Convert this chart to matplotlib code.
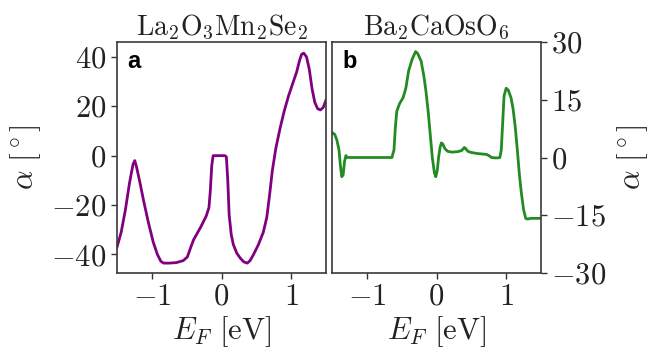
import matplotlib
matplotlib.use("Agg")
import matplotlib.pyplot as plt
from matplotlib.ticker import FuncFormatter

plt.rcParams["mathtext.fontset"] = "cm"
plt.rcParams["font.family"] = "serif"
plt.rcParams["font.serif"] = ["cmr10", "DejaVu Serif"]

# La2O3Mn2Se2 (panel a)
e_a = [-1.50, -1.44, -1.38, -1.32, -1.27, -1.245, -1.22, -1.17, -1.12, -1.05,
       -0.98, -0.92, -0.87, -0.83, -0.75, -0.65, -0.55, -0.49, -0.44, -0.40,
       -0.30, -0.22, -0.18, -0.16, -0.14, -0.12, -0.10, -0.05, 0.00, 0.05,
       0.07, 0.09, 0.11, 0.14, 0.17, 0.22, 0.27, 0.32, 0.37, 0.41, 0.46,
       0.53, 0.60, 0.65, 0.69, 0.73, 0.78, 0.84, 0.90, 0.96, 1.02, 1.08,
       1.12, 1.15, 1.18, 1.22, 1.26, 1.30, 1.34, 1.38, 1.42, 1.46, 1.50]
a_a = [-37.0, -31.0, -22.0, -11.0, -3.5, -2.0, -4.5, -11.0, -18.0, -27.0,
       -35.0, -40.0, -42.8, -43.5, -43.5, -43.3, -42.5, -41.0, -37.0, -34.0,
       -29.0, -24.5, -21.0, -14.0, -4.0, 0.0, 0.0, 0.0, 0.0, 0.0,
       -0.5, -10.0, -24.0, -32.0, -36.0, -39.5, -41.5, -43.0, -43.5, -42.5, -40.0,
       -36.0, -31.0, -25.0, -16.0, -6.0, 3.0, 11.0, 18.0, 24.0, 29.0, 34.0,
       38.5, 41.0, 41.5, 40.0, 35.0, 27.0, 21.5, 19.0, 18.5, 19.5, 22.5]

# Ba2CaOsO6 (panel b)
e_b = [-1.50, -1.46, -1.43, -1.40, -1.38, -1.36, -1.34, -1.32, -1.30, -1.28,
       -1.25, -1.10, -0.90, -0.75, -0.64, -0.61, -0.59, -0.57, -0.53, -0.48,
       -0.44, -0.40, -0.35, -0.30, -0.27, -0.22, -0.18, -0.15, -0.12, -0.09,
       -0.06, -0.03, -0.01, 0.01, 0.03, 0.05, 0.07, 0.09, 0.12, 0.16, 0.22,
       0.30, 0.36, 0.40, 0.42, 0.45, 0.50, 0.60, 0.72, 0.76, 0.79, 0.84,
       0.88, 0.91, 0.93, 0.95, 0.97, 1.00, 1.03, 1.07, 1.10, 1.13, 1.16,
       1.19, 1.22, 1.25, 1.28, 1.31, 1.35, 1.40, 1.50]
a_b = [6.5, 6.0, 4.5, 2.0, -2.0, -5.0, -4.5, -1.0, 0.5, 0.0,
       0.0, 0.0, 0.0, 0.0, 0.0, 2.0, 8.0, 12.0, 14.0, 15.5,
       18.0, 22.5, 25.5, 27.5, 27.0, 25.0, 21.0, 17.0, 12.0, 6.0,
       0.0, -4.0, -5.0, -3.5, 0.0, 2.5, 3.8, 3.5, 2.3, 1.6, 1.4,
       1.5, 1.8, 2.6, 2.3, 1.6, 1.3, 1.0, 0.8, 0.4, 0.0, -0.1,
       -0.1, 0.0, 2.0, 9.0, 16.0, 18.0, 17.5, 15.5, 12.5, 8.0, 2.0,
       -4.5, -9.5, -13.5, -15.8, -16.0, -15.8, -15.8, -15.8]

titles = [r"$\mathrm{La_2O_3Mn_2Se_2}$", r"$\mathrm{Ba_2CaOsO_6}$"]
panel_tags = ["a", "b"]
xticks = [-1, 0, 1]
yticks_a = [-40, -20, 0, 20, 40]
yticks_b = [-30, -15, 0, 15, 30]

W, H = 659, 352
fig = plt.figure(figsize=(W / 100, H / 100), dpi=100)
ax_a = fig.add_axes([117 / W, 79 / H, 209 / W, 231 / H])
ax_b = fig.add_axes([332 / W, 79 / H, 209 / W, 231 / H])

mfmt = FuncFormatter(lambda v, _: r"$%d$" % round(v))

panels = [
    (ax_a, e_a, a_a, "purple", yticks_a, (-47.5, 46.0), "left"),
    (ax_b, e_b, a_b, "forestgreen", yticks_b, (-30, 30), "right"),
]
for i, (ax, x, y, color, yt, ylim, side) in enumerate(panels):
    ax.plot(x, y, color=color, lw=2.0)
    ax.set_xlim(-1.5, 1.5)
    ax.set_ylim(*ylim)
    ax.set_xticks(xticks)
    ax.set_yticks(yt)
    ax.xaxis.set_major_formatter(mfmt)
    ax.yaxis.set_major_formatter(mfmt)
    ax.tick_params(direction="out", length=4, width=1, labelsize=22,
                   color="#333333", labelcolor="#222222")
    for sp in ax.spines.values():
        sp.set_color("#3a3a3a")
        sp.set_linewidth(1.2)
    ax.set_xlabel(r"$E_F\ [\mathrm{eV}]$", fontsize=22, labelpad=2,
                  color="#222222")
    ax.set_title(titles[i], fontsize=20, pad=5, color="#222222")
    ax.text(0.05, 0.965, panel_tags[i], transform=ax.transAxes,
            fontsize=17, fontweight="bold", family="Liberation Sans",
            va="top", ha="left")
    if side == "right":
        ax.yaxis.tick_right()
        ax.yaxis.set_label_position("right")
    ax.set_ylabel(r"$\alpha\ [^\circ]$", fontsize=22, labelpad=6,
                  color="#222222")

fig.savefig("out.png", dpi=100)
